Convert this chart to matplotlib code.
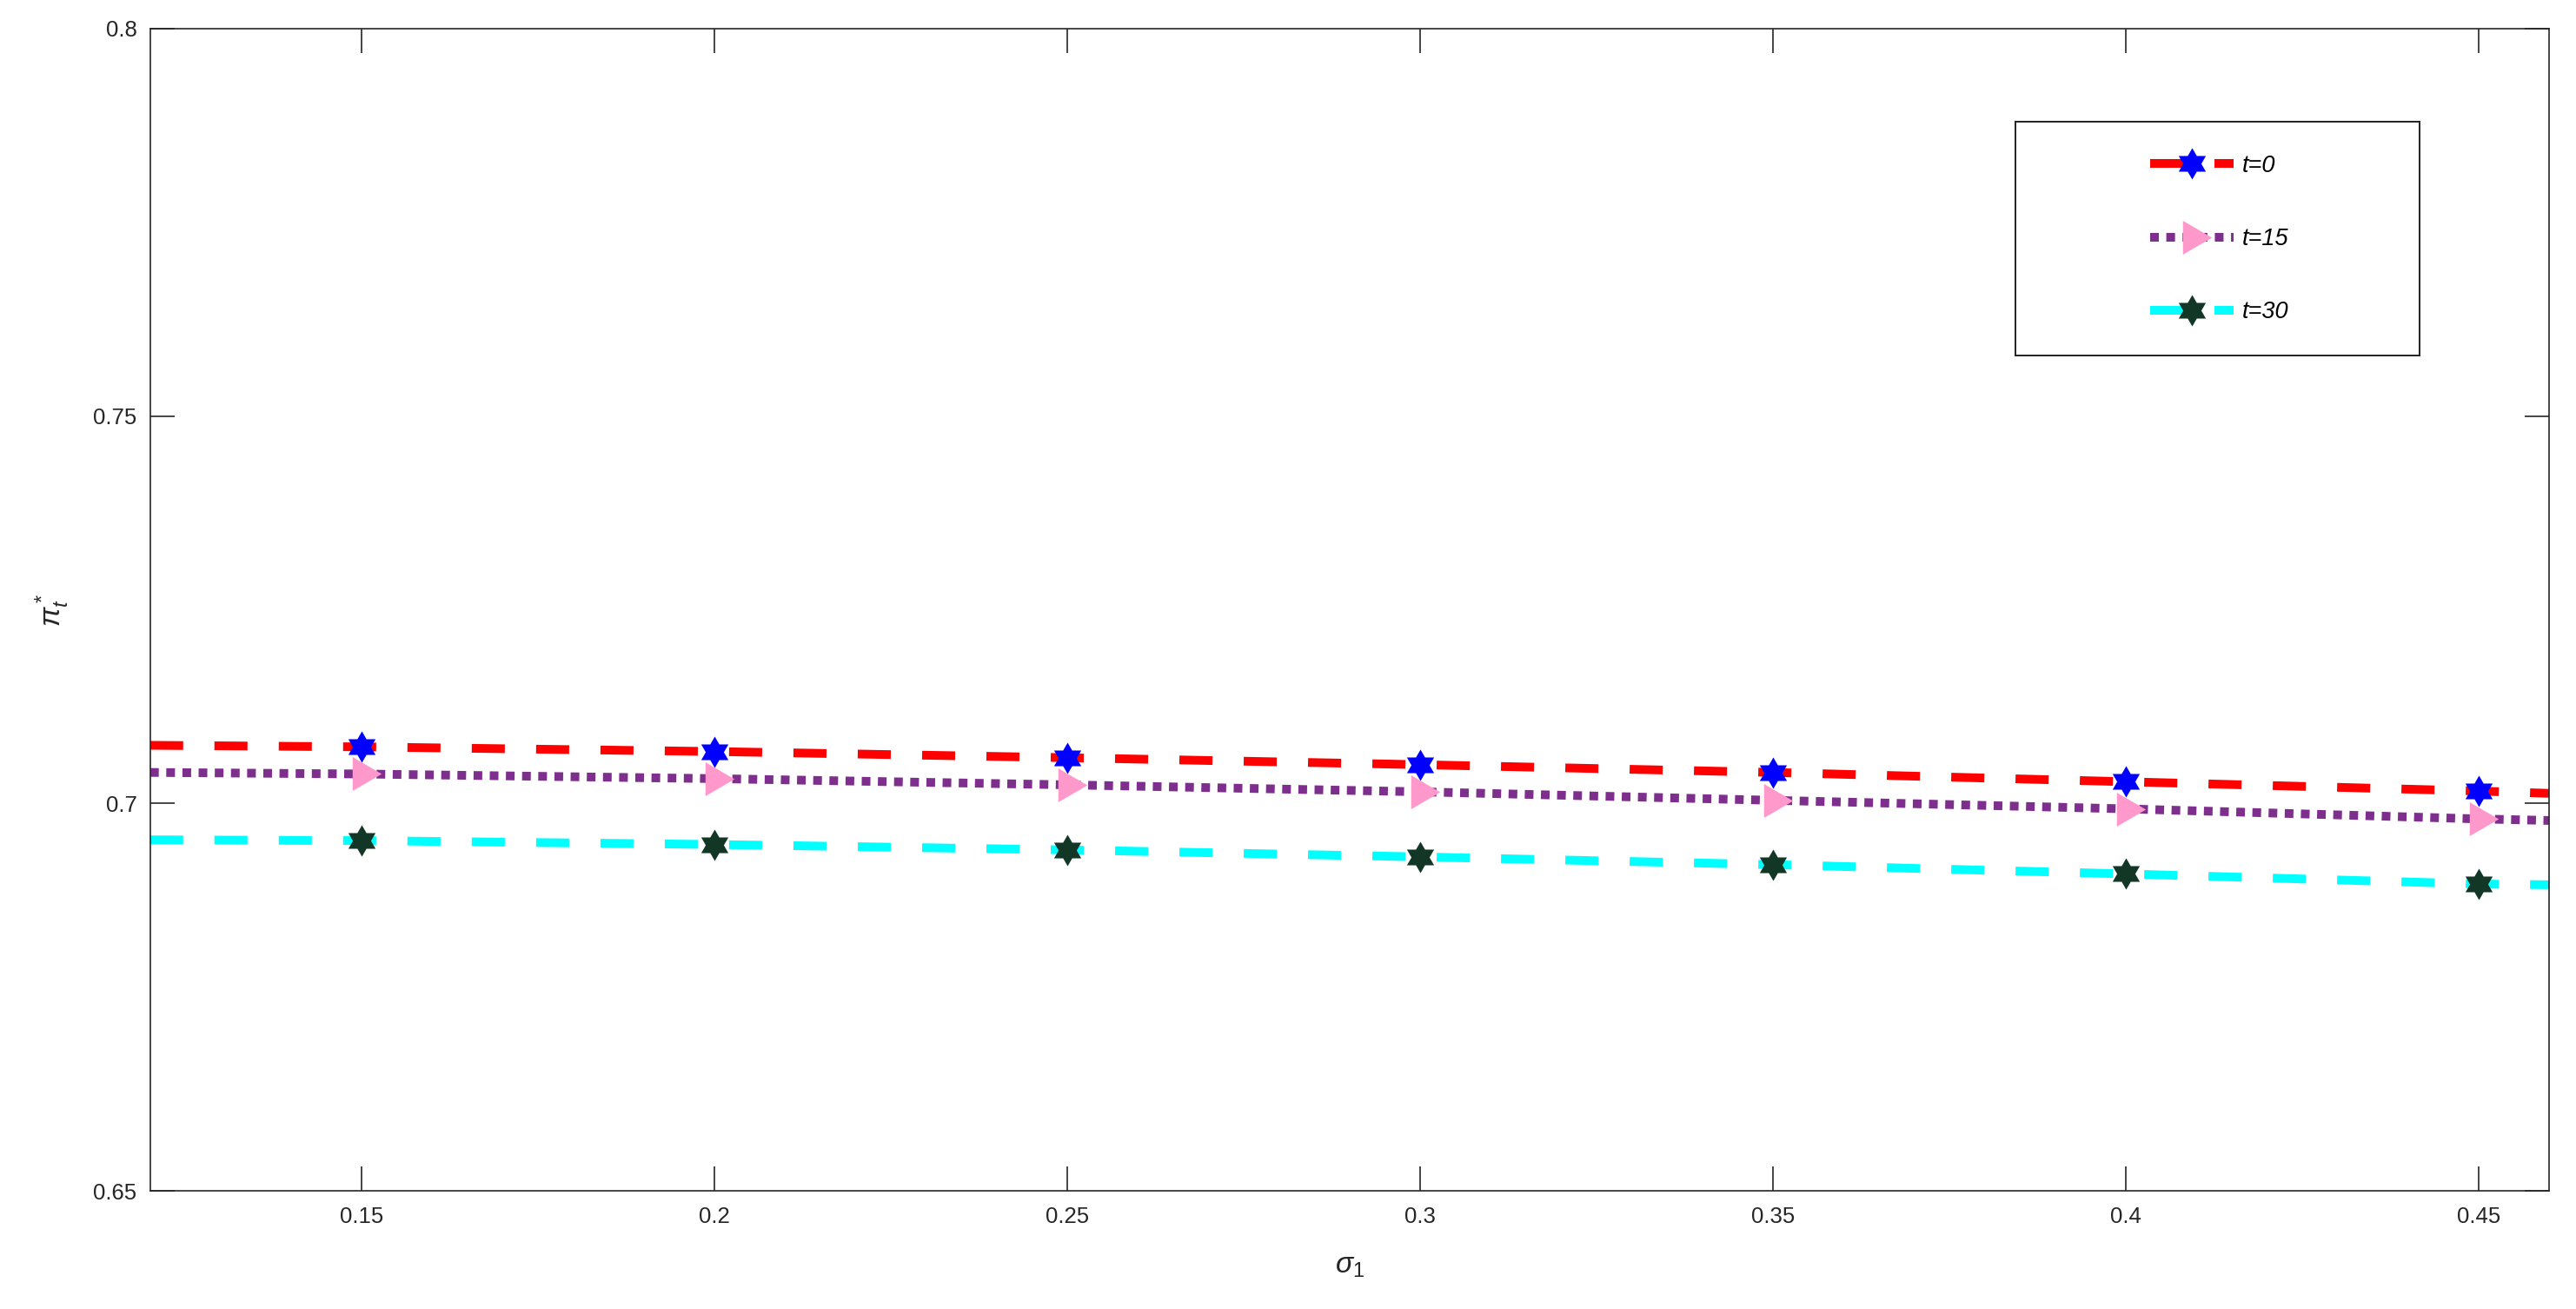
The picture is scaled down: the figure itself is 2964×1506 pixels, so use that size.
import numpy as np
import matplotlib
matplotlib.use("Agg")
import matplotlib.pyplot as plt
from matplotlib.patches import Rectangle

# ---- data ----
sigma = [0.15, 0.20, 0.25, 0.30, 0.35, 0.40, 0.45]
sigma_full = [0.12, 0.15, 0.20, 0.25, 0.30, 0.35, 0.40, 0.45, 0.46]
pi_t0 = [0.7075, 0.7073, 0.7067, 0.7059, 0.7050, 0.7040, 0.7028, 0.7016, 0.7013]
pi_t15 = [0.7040, 0.7038, 0.7032, 0.7024, 0.7015, 0.7004, 0.6993, 0.6980, 0.6978]
pi_t30 = [0.6953, 0.6952, 0.6947, 0.6940, 0.6931, 0.6921, 0.6909, 0.6896, 0.6895]
labels = ["t=0", "t=15", "t=30"]
xticks = [0.15, 0.20, 0.25, 0.30, 0.35, 0.40, 0.45]
xticklabels = ["0.15", "0.2", "0.25", "0.3", "0.35", "0.4", "0.45"]
yticks = [0.65, 0.70, 0.75, 0.80]
yticklabels = ["0.65", "0.7", "0.75", "0.8"]

plt.rcParams['font.family'] = ['Liberation Sans', 'DejaVu Sans']
plt.rcParams['mathtext.fontset'] = 'custom'
plt.rcParams['mathtext.rm'] = 'Liberation Sans'
plt.rcParams['mathtext.it'] = 'Liberation Sans:italic'
plt.rcParams['lines.scale_dashes'] = False

W, H = 2964, 1506
fig = plt.figure(figsize=(W / 100, H / 100), dpi=100)
L, R, T, B = 172.7, 2933, 33, 1370
ax = fig.add_axes([L / W, 1 - B / H, (R - L) / W, (B - T) / H])

# hexagram marker
ang_out = np.deg2rad(90 + 60 * np.arange(6))
ang_in = ang_out + np.deg2rad(30)
r_in = 1 / np.sqrt(3)
hexv = []
for ao, ai in zip(ang_out, ang_in):
    hexv.append((np.cos(ao), np.sin(ao)))
    hexv.append((r_in * np.cos(ai), r_in * np.sin(ai)))
hexv.append(hexv[0])
hexv = np.array(hexv)

# right-pointing triangle, offset like MATLAB's
tri = np.array([(-10.7, -19.5), (22.7, 0.0), (-10.7, 19.5), (-10.7, -19.5)])

lw = 7.2
me = list(range(1, 8))
ax.plot(sigma_full, pi_t0, color='#FF0000', lw=lw, linestyle=(0, (27.4, 25.9)),
        marker=hexv, markersize=26, markerfacecolor='#0000FF', markeredgecolor='#0000FF',
        markeredgewidth=0, markevery=me, label=labels[0])
ax.plot(sigma_full, pi_t15, color='#7E2F8E', lw=lw, linestyle=(0, (7.2, 6.2)),
        marker=tri, markersize=32.7, markerfacecolor='#FF99CC', markeredgecolor='#FF99CC',
        markeredgewidth=0, markevery=me, label=labels[1])
ax.plot(sigma_full, pi_t30, color='#00FFFF', lw=lw, linestyle=(0, (27.4, 25.9)),
        marker=hexv, markersize=26, markerfacecolor='#133726', markeredgecolor='#133726',
        markeredgewidth=0, markevery=me, label=labels[2])

ax.set_xlim(0.12, 0.46)
ax.set_ylim(0.65, 0.80)
ax.set_xticks(xticks)
ax.set_xticklabels(xticklabels)
ax.set_yticks(yticks)
ax.set_yticklabels(yticklabels)

axcol = '#262626'
for s in ax.spines.values():
    s.set_color(axcol)
    s.set_linewidth(1.2)
ax.tick_params(axis='both', direction='in', length=20.5, width=1.2, color=axcol,
               labelcolor=axcol, labelsize=18.5, top=True, right=True)
ax.tick_params(axis='x', pad=13)
ax.tick_params(axis='y', pad=11)

ax.set_xlabel(r'$\sigma_1$', fontsize=24, color=axcol)
ax.xaxis.set_label_coords(0.5, -0.053)
ax.set_ylabel(r'$\pi^*_t$', fontsize=24, color=axcol)
ax.yaxis.set_label_coords(-0.033, 0.5)

# legend frame
frame = Rectangle((2319 / W, 1 - 409 / H), 465 / W, 269 / H, transform=fig.transFigure,
                  facecolor='white', edgecolor=axcol, linewidth=1.44, zorder=4, clip_on=False)
ax.add_patch(frame)
leg = ax.legend(loc='center left', bbox_to_anchor=(2474 / W, 1 - 275 / H),
                bbox_transform=fig.transFigure, frameon=False, borderpad=0, borderaxespad=0,
                handlelength=3.55, handletextpad=0.34, labelspacing=2.16, numpoints=1,
                prop={'family': 'Liberation Sans', 'style': 'italic', 'size': 19.5})
leg.set_zorder(5)
for t in leg.get_texts():
    t.set_color('black')

fig.savefig('out.png', dpi=100, facecolor='white')
